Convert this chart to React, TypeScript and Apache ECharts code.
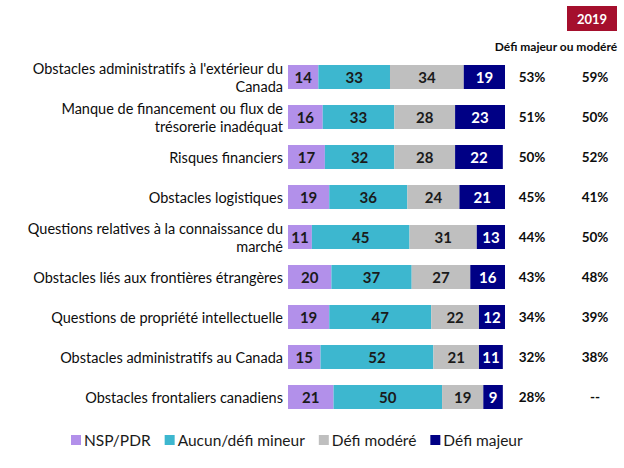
import React, { useEffect, useRef } from "react";
import * as echarts from "echarts";

const categories = [
  "Obstacles administratifs à l'extérieur du\nCanada",
  "Manque de financement ou flux de\ntrésorerie inadéquat",
  "Risques financiers",
  "Obstacles logistiques",
  "Questions relatives à la connaissance du\nmarché",
  "Obstacles liés aux frontières étrangères",
  "Questions de propriété intellectuelle",
  "Obstacles administratifs au Canada",
  "Obstacles frontaliers canadiens",
];
const nspPdr = [14, 16, 17, 19, 11, 20, 19, 15, 21];
const aucunMineur = [33, 33, 32, 36, 45, 37, 47, 52, 50];
const defiModere = [34, 28, 28, 24, 31, 27, 22, 21, 19];
const defiMajeur = [19, 23, 22, 21, 13, 16, 12, 11, 9];
const majeurOuModere = ["53%", "51%", "50%", "45%", "44%", "43%", "34%", "32%", "28%"];
const majeurOuModere2019 = ["59%", "50%", "52%", "41%", "50%", "48%", "39%", "38%", "--"];

const FONT = "Lato, 'Noto Sans', sans-serif";

export default function App() {
  const ref = useRef<HTMLDivElement>(null);
  useEffect(() => {
    if (!ref.current) return;
    const chart = echarts.init(ref.current, null, { renderer: "svg" });
    const mk = (name: string, data: number[], color: string, labelColor: string) => ({
      name,
      type: "bar",
      stack: "total",
      data,
      barWidth: 24,
      itemStyle: { color },
      label: {
        show: true,
        position: "inside",
        color: labelColor,
        fontFamily: FONT,
        fontWeight: "bold",
        fontSize: 15,
      },
    });
    chart.setOption({
      animation: false,
      textStyle: { fontFamily: FONT },
      grid: { left: 288, right: 119, top: 57, height: 360 },
      legend: {
        left: 66,
        top: 427,
        icon: "rect",
        itemWidth: 10,
        itemHeight: 10,
        itemGap: 14,
        textStyle: { fontSize: 15.5, color: "#1a1a1a", fontFamily: FONT, padding: [0, 0, 0, -2] },
        data: ["NSP/PDR", "Aucun/défi mineur", "Défi modéré", "Défi majeur"],
      },
      xAxis: { type: "value", min: 0, max: 100, show: false },
      yAxis: [
        {
          type: "category",
          data: categories,
          inverse: true,
          axisLine: { show: false },
          axisTick: { show: false },
          axisLabel: {
            margin: 5,
            fontSize: 14.5,
            color: "#0d0d0d",
            fontFamily: FONT,
            align: "right",
            lineHeight: 18,
          },
        },
        {
          type: "category",
          data: categories,
          inverse: true,
          position: "right",
          axisLine: { show: false },
          axisTick: { show: false },
          axisLabel: {
            margin: 0,
            align: "left",
            formatter: (_v: string, i: number) => `{a|${majeurOuModere[i]}}{b|${majeurOuModere2019[i]}}`,
            rich: {
              a: { width: 54, align: "center", fontSize: 13.5, fontWeight: "bold", color: "#0d0d0d", fontFamily: FONT },
              b: { width: 72, align: "center", fontSize: 13.5, fontWeight: "bold", color: "#0d0d0d", fontFamily: FONT },
            },
          },
        },
      ],
      graphic: [
        {
          type: "rect",
          shape: { x: 567, y: 6, width: 50, height: 25 },
          style: { fill: "#A50F2D" },
        },
        {
          type: "text",
          x: 592,
          y: 18.5,
          style: {
            text: "2019",
            fill: "#fff",
            font: `bold 13px ${FONT}`,
            align: "center",
            verticalAlign: "middle",
          },
        },
        {
          type: "text",
          x: 556,
          y: 46,
          style: {
            text: "Défi majeur ou modéré",
            fill: "#0d0d0d",
            font: `bold 12px ${FONT}`,
            align: "center",
            verticalAlign: "middle",
          },
        },
      ],
      series: [
        mk("NSP/PDR", nspPdr, "#B290EA", "#1a1a1a"),
        mk("Aucun/défi mineur", aucunMineur, "#3DB7CF", "#1a1a1a"),
        mk("Défi modéré", defiModere, "#BFBFBF", "#1a1a1a"),
        mk("Défi majeur", defiMajeur, "#000085", "#ffffff"),
      ],
    });
    return () => chart.dispose();
  }, []);
  return <div ref={ref} style={{ width: 624, height: 468, position: "absolute", left: 0, top: 0 }} />;
}
